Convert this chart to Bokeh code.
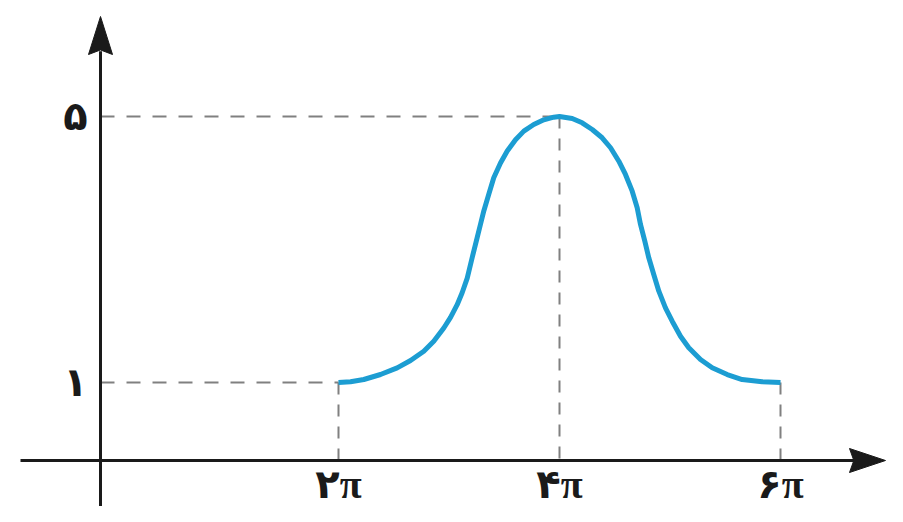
from bokeh.plotting import figure
from bokeh.models import Range1d
from bokeh.core.properties import value
from bokeh.embed import file_html
from bokeh.resources import INLINE

# ---- data (x in multiples of pi) ----
curve_x_pi = [2.0, 2.109, 2.229, 2.38, 2.531, 2.652, 2.772, 2.862, 2.953, 3.014, 3.074, 3.119,
              3.165, 3.21, 3.255, 3.285, 3.315, 3.36, 3.405, 3.466, 3.527, 3.602, 3.677, 3.767,
              3.858, 3.948, 4.0,
              4.115, 4.205, 4.296, 4.386, 4.462, 4.537, 4.597, 4.658, 4.703, 4.733, 4.772,
              4.808, 4.853, 4.899, 4.959, 5.02, 5.095, 5.17, 5.276, 5.382, 5.518, 5.653, 5.834, 6.0]
curve_y = [1.0, 1.01, 1.045, 1.12, 1.22, 1.33, 1.47, 1.62, 1.82, 1.98, 2.17, 2.35,
           2.57, 2.88, 3.18, 3.38, 3.58, 3.83, 4.08, 4.30, 4.48, 4.65, 4.78, 4.88,
           4.95, 4.99, 5.0,
           4.97, 4.905, 4.805, 4.68, 4.53, 4.328, 4.128, 3.877, 3.627, 3.376, 3.125,
           2.875, 2.624, 2.373, 2.123, 1.922, 1.696, 1.522, 1.346, 1.221, 1.12, 1.045, 1.011, 1.0]
x_ticks = [2, 4, 6]
x_tick_labels = ["۲π", "۴π", "۶π"]
y_ticks = [1, 5]
y_tick_labels = ["۱", "۵"]
# dashed guide lines run from these points to the axes
guide_pts_x = [2, 4, 6]
guide_pts_y = [1, 5, 1]

# ---- layout constants ----
W, H = 887, 506
PXX = 110.5          # pixels per pi
PXY = 66.5           # pixels per unit
PX_2PI = 338         # pixel column of 2pi
PY_1 = 382           # pixel row of y = 1
X0 = 2 - PX_2PI / PXX
X1 = X0 + W / PXX
Y1 = 1 + PY_1 / PXY
Y0 = Y1 - H / PXY
AX_X = 2 + (100 - PX_2PI) / PXX    # y-axis location
AX_Y = 1 + (PY_1 - 460) / PXY      # x-axis location

p = figure(width=W, height=H, x_range=Range1d(X0, X1), y_range=Range1d(Y0, Y1),
           output_backend="svg", toolbar_location=None, min_border=0)
p.axis.visible = False
p.grid.visible = False
p.outline_line_color = None
p.background_fill_color = "white"

dash_col = "#808080"
for gx, gy in zip(guide_pts_x, guide_pts_y):
    if gy == max(guide_pts_y) or gx == min(guide_pts_x):
        p.line([AX_X, gx], [gy, gy], line_color=dash_col, line_width=2, line_dash="14 12")
    p.line([gx, gx], [gy, AX_Y], line_color=dash_col, line_width=2, line_dash="12 10")

# axes with arrow heads
axis_col = "#1a1a1a"
tip_y = Y1 - 16 / PXY
tip_x = X0 + 885 / PXX
head_len_y = 38 / PXY
head_w_x = 12 / PXX
head_len_x = 36 / PXX
head_w_y = 12 / PXY
p.line([AX_X, AX_X], [Y0, tip_y - head_len_y + 0.05], line_color=axis_col, line_width=3)
p.line([X0 + 20 / PXX, tip_x - head_len_x + 0.05], [AX_Y, AX_Y], line_color=axis_col, line_width=3)
p.patch([AX_X - head_w_x, AX_X, AX_X + head_w_x, AX_X],
        [tip_y - head_len_y, tip_y, tip_y - head_len_y, tip_y - head_len_y * 0.88],
        fill_color=axis_col, line_color=axis_col, line_width=1)
p.patch([tip_x - head_len_x, tip_x, tip_x - head_len_x, tip_x - head_len_x * 0.88],
        [AX_Y + head_w_y, AX_Y, AX_Y - head_w_y, AX_Y],
        fill_color=axis_col, line_color=axis_col, line_width=1)

# curve
p.line(curve_x_pi, curve_y, line_color="#1c9dd2", line_width=5, line_join="round")

# labels
font = value("Liberation Serif, DejaVu Sans")
p.text(x=x_ticks, y=[AX_Y - 24 / PXY] * len(x_ticks), text=x_tick_labels,
       text_align="center", text_baseline="middle", text_font=font, text_font_style="bold",
       text_font_size="40px", text_color="#1a1a1a")
p.text(x=[AX_X - 25 / PXX] * len(y_ticks), y=y_ticks, text=y_tick_labels,
       text_align="center", text_baseline="middle", text_font=font, text_font_style="bold",
       text_font_size="40px", text_color="#1a1a1a")

open("out.html", "w").write(file_html(p, INLINE))
